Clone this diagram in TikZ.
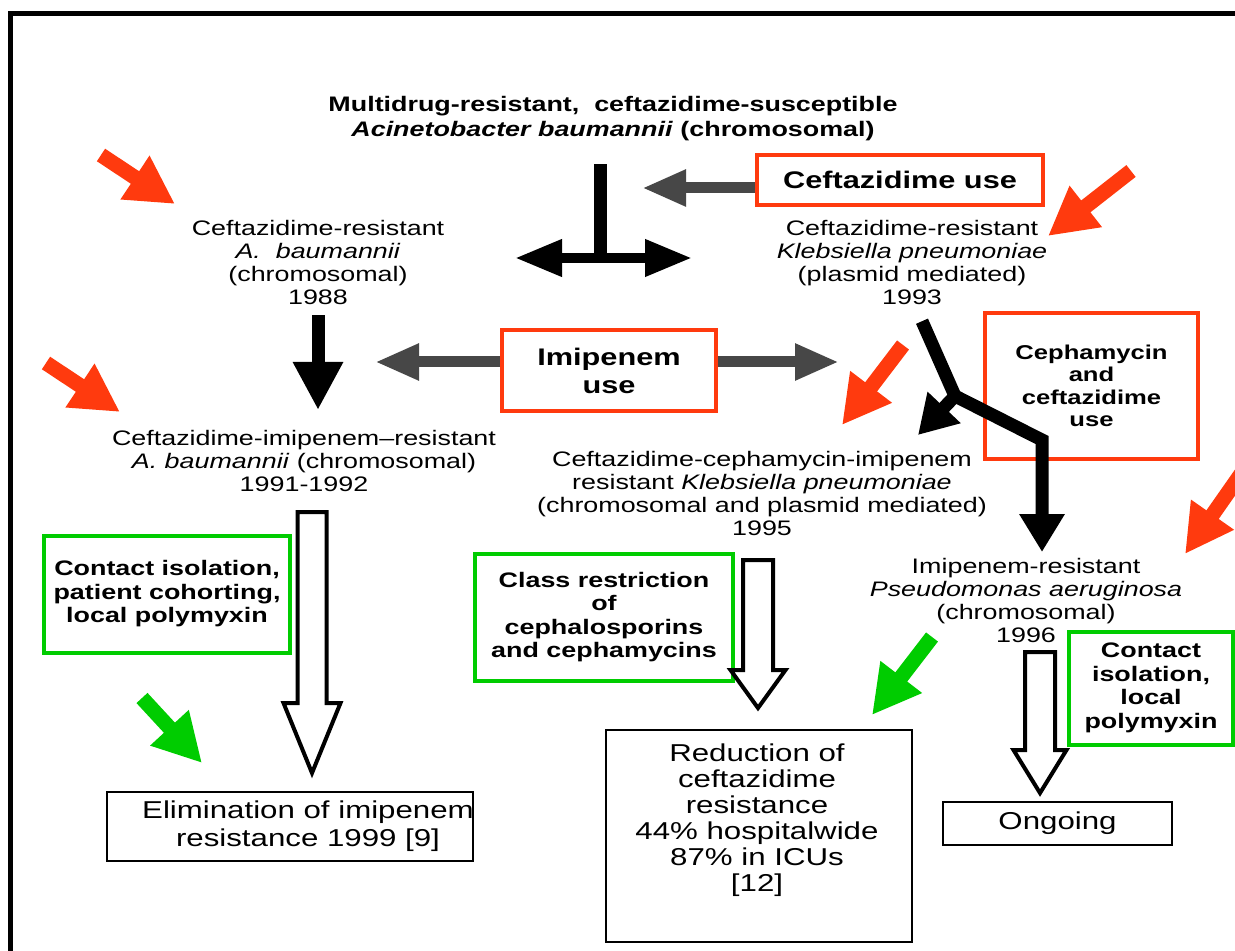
\documentclass[tikz,border=0pt]{standalone}
\usepackage{fontspec}
\setmainfont[FakeStretch=1.28]{Liberation Sans}
\usetikzlibrary{positioning, arrows.meta}
\definecolor{UseRed}{RGB}{255,58,14}
\definecolor{CtrlGreen}{RGB}{0,204,0}

\tikzset{
  orgtext/.style={align=center, inner sep=0pt, font=\fontsize{10.5}{11.5}\selectfont},
  usebox/.style={draw=UseRed, line width=2pt, align=center, inner sep=0pt, font=\bfseries\fontsize{12}{14}\selectfont},
  ctrlbox/.style={draw=CtrlGreen, line width=2pt, align=center, inner sep=0pt, font=\bfseries\fontsize{10.5}{11.75}\selectfont},
  outbox/.style={draw, line width=0.8pt, inner sep=0pt},
  outtext/.style={align=center, inner sep=0pt, font=\fontsize{12.2}{13}\selectfont},
  flowline/.style={line width=6.5pt, line join=miter},
  usearrow/.style={line width=5.5pt, black!72, -{Triangle[length=22pt, width=17pt]}},
  pointer/.style={line width=7.5pt, -{Triangle[length=24pt, width=24.5pt]}},
  hollow/.style={draw, line width=2pt, fill=white, line join=miter},
}

% open arrow: x, top, head base, tip, shaft half width, head half width
\newcommand{\hollowarrow}[6]{%
  \draw[hollow] (#1-#5,#2) -- (#1+#5,#2) -- (#1+#5,#3) -- (#1+#6,#3)
    -- (#1,#4) -- (#1-#6,#3) -- (#1-#5,#3) -- cycle;}

\begin{document}
\begin{tikzpicture}[x=0.5pt, y=-0.5pt]
    \useasboundingbox (0,0) rectangle (1235,951);
    \fill[white] (0,0) rectangle (1235,951);

    % Frame
    \draw[line width=2.5pt, line join=miter] (10.5,960) -- (10.5,13.5) -- (1245,13.5);

    % Organisms
    \node[orgtext, anchor=north, font=\bfseries\fontsize{10.5}{12.5}\selectfont] (origin) at (613,96)
      {Multidrug-resistant,\ \ ceftazidime-susceptible\\\textit{Acinetobacter baumannii} (chromosomal)};
    \node[orgtext, anchor=north] (cazab) at (318,220) {Ceftazidime-resistant\\\textit{A.\ \ baumannii}\\(chromosomal)\\1988};
    \node[orgtext, anchor=north] (cazkp) at (912,220) {Ceftazidime-resistant\\\textit{Klebsiella pneumoniae}\\(plasmid mediated)\\1993};
    \node[orgtext, anchor=north] (cazimab) at (304,430) {Ceftazidime-imipenem--resistant\\\textit{A. baumannii} (chromosomal)\\1991-1992};
    \node[orgtext, anchor=north] (cazcephkp) at (762,451) {Ceftazidime-cephamycin-imipenem\\resistant \textit{Klebsiella pneumoniae}\\(chromosomal and plasmid mediated)\\1995};
    \node[orgtext, anchor=north] (impa) at (1026,558) {Imipenem-resistant\\\textit{Pseudomonas aeruginosa}\\(chromosomal)\\1996};

    % Antibiotic use
    \node[usebox, minimum width=143pt, minimum height=25pt] (cazuse) at (900,180) {Ceftazidime use};
    \node[usebox, minimum width=107pt, minimum height=40.5pt] (imiuse) at (609,370.5) {Imipenem\\use};
    \node[usebox, font=\bfseries\fontsize{10}{11.25}\selectfont, minimum width=106.5pt, minimum height=73pt] (cephuse) at (1091.5,386)
      {Cephamycin\\and\\ceftazidime\\use};

    % Control measures
    \node[ctrlbox, minimum width=123pt, minimum height=58.5pt] (isolab) at (167,594) {Contact isolation,\\patient cohorting,\\local polymyxin};
    \node[ctrlbox, minimum width=129pt, minimum height=63.5pt] (classres) at (604,617) {Class restriction\\of\\cephalosporins\\and cephamycins};
    \node[ctrlbox, minimum width=82pt, minimum height=56.5pt] (isolpa) at (1151,688) {Contact\\isolation,\\local\\polymyxin};

    % Outcomes
    \node[outbox, minimum width=183pt, minimum height=34.5pt] (elim) at (290,826.5) {};
    \node[outtext, font=\fontsize{12.2}{14}\selectfont] (elimtxt) at (308,826) {Elimination of imipenem\\resistance 1999 [9]};
    \node[outbox, minimum width=153pt, minimum height=106pt] (reduce) at (759,836) {};
    \node[outtext, anchor=north] (reducetxt) at (757,743) {Reduction of\\ceftazidime\\resistance\\44\% hospitalwide\\87\% in ICUs\\{[12]}};
    \node[outbox, outtext, minimum width=114.5pt, minimum height=21.5pt] (ongoing) at (1057.5,823.5) {Ongoing};

    % Spread of resistance
    \coordinate (split) at (600.5,258);
    \coordinate (splitL) at (515,258);
    \coordinate (splitR) at (692,258);
    \draw[flowline, shorten <=11.5pt] (origin.south -| split) -- (split);
    \draw[line width=5pt, {Triangle[length=23.5pt, width=17.5pt]}-{Triangle[length=23.5pt, width=17.5pt]}] (splitL) -- (splitR);
    \draw[flowline, -{Triangle[length=24pt, width=23.5pt]}, shorten <=5pt, shorten >=10pt] (cazab.south) -- (cazab.south |- cazimab.north);

    \coordinate (kpfork) at (955,396);
    \coordinate (kpbend) at (1042,440);
    \coordinate (kptipL) at (918,435);
    \draw[flowline, -{Triangle[length=19pt, width=21.5pt]}, shorten >=3pt]
      ([shift={(5pt,-8pt)}]cazkp.south) -- (kpfork) -- (kpbend) -- (impa.north -| kpbend);
    \draw[flowline, -{Triangle[length=19pt, width=21.5pt]}] (kpfork) -- (kptipL);

    % Selective pressure
    \coordinate (cazusetip) at (642,188);
    \coordinate (imiusetipL) at (375,362);
    \coordinate (imiusetipR) at (839,362);
    \draw[usearrow] ([yshift=-4pt]cazuse.west) -- (cazusetip);
    \draw[usearrow] ([yshift=4.25pt]imiuse.west) -- (imiusetipL);
    \draw[usearrow] ([yshift=4.25pt]imiuse.east) -- (imiusetipR);

    % Effect of control measures
    \hollowarrow{312}{512}{703}{773}{14.5}{28.5}
    \hollowarrow{758}{560}{670}{708}{15}{27.5}
    \hollowarrow{1040}{652}{750}{793}{15}{26.5}

    % Pointers
    \foreach \xa/\ya/\xb/\yb in {101/155/175/204, 46/363/120/412, 1131/171/1048/236, 903/345/842/425, 1241/474/1185/554}
      \draw[pointer, UseRed] (\xa,\ya) -- (\xb,\yb);
    \foreach \xa/\ya/\xb/\yb in {142/698/202/763, 932/637/872/715}
      \draw[pointer, CtrlGreen] (\xa,\ya) -- (\xb,\yb);
\end{tikzpicture}
\end{document}
